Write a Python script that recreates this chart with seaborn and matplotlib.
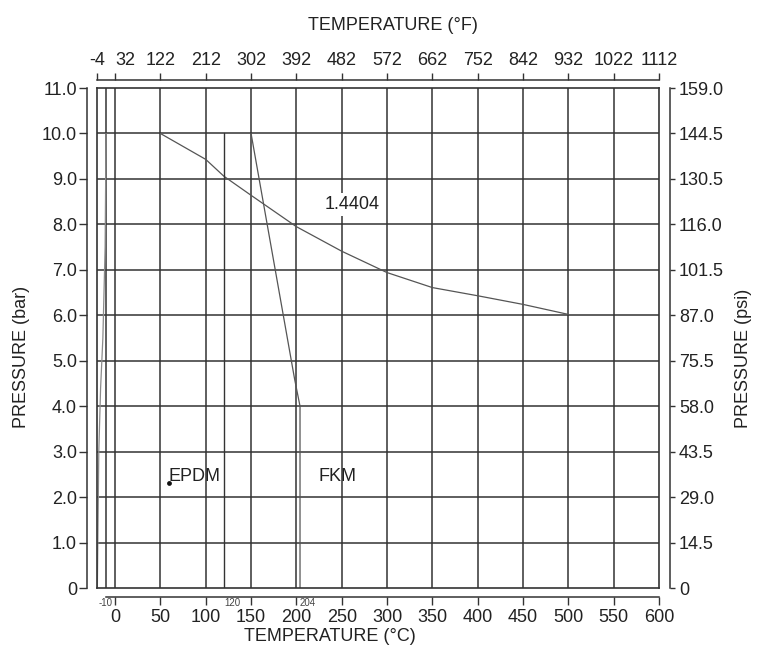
import matplotlib
matplotlib.use("Agg")
import matplotlib.pyplot as plt
import matplotlib.transforms as mtrans
import seaborn as sns
import pandas as pd

sns.set_style("white")
plt.rcParams['font.family'] = ['Liberation Sans', 'DejaVu Sans']

# axis ticks / labels
temp_c_ticks = [0, 50, 100, 150, 200, 250, 300, 350, 400, 450, 500, 550, 600]
temp_c_small = [-10, 120, 204]
temp_c_small_labels = ['-10', '120', '204']
temp_f_pos = [-20, 0, 50, 100, 150, 200, 250, 300, 350, 400, 450, 500, 550, 600]
temp_f_labels = ['-4', '32', '122', '212', '302', '392', '482', '572', '662',
                 '752', '842', '932', '1022', '1112']
bar_ticks = [0, 1, 2, 3, 4, 5, 6, 7, 8, 9, 10, 11]
bar_labels = ['0', '1.0', '2.0', '3.0', '4.0', '5.0', '6.0', '7.0', '8.0',
              '9.0', '10.0', '11.0']
psi_labels = ['0', '14.5', '29.0', '43.5', '58.0', '75.5', '87.0', '101.5',
              '116.0', '130.5', '144.5', '159.0']
grid_c = [-10, 0, 50, 100, 150, 200, 250, 300, 350, 400, 450, 500, 550]
grid_bar = [1, 2, 3, 4, 5, 6, 7, 8, 9, 10]

# curves
t_14404 = [50, 100, 120, 150, 200, 250, 300, 350, 400, 450, 500]
p_14404 = [10.0, 9.43, 9.06, 8.64, 7.95, 7.41, 6.94, 6.61, 6.43, 6.24, 6.02]
t_fkm = [150, 198, 204, 204]
p_fkm = [10.0, 4.6, 4.0, 0.0]
t_epdm = [120, 120]
p_epdm = [0.0, 10.0]
t_low = [-10, -11, -13.5, -16, -18, -19.6]
p_low = [10.0, 7.5, 5.5, 4.4, 3.0, 0.0]
epdm_dot_t = [60]
epdm_dot_p = [2.3]

ink = '#333333'
txt = '#222222'
fs = 13
pos = [0.1281, 0.105, 0.7424, 0.761]

fig = plt.figure(figsize=(7.57, 6.57), dpi=100)

def shift(label, dx_px, dy_px=0):
    label.set_transform(label.get_transform() + mtrans.ScaledTranslation(
        dx_px / 100, dy_px / 100, fig.dpi_scale_trans))

# plot box with grid
ax = fig.add_axes(pos, label='main')
ax.set_xlim(-20, 600)
ax.set_ylim(0, 11)
for s in ax.spines.values():
    s.set_visible(True)
    s.set_color(ink)
    s.set_linewidth(1.2)
ax.set_xticks(grid_c)
ax.set_yticks(grid_bar)
ax.tick_params(length=0, labelbottom=False, labelleft=False)
ax.grid(True, color=ink, lw=1.1)

def line(t, p, color='#555555', lw=0.9):
    df = pd.DataFrame({'t': t, 'p': p})
    sns.lineplot(data=df, x='t', y='p', ax=ax, sort=False, estimator=None,
                 color=color, lw=lw)

line(t_14404, p_14404)
line(t_fkm, p_fkm)
line(t_epdm, p_epdm, color=ink, lw=1.0)
line(t_low, p_low, color='#8a8a8a', lw=0.9)
sns.scatterplot(x=epdm_dot_t, y=epdm_dot_p, ax=ax, color='#111111', s=12,
                edgecolor='none')
ax.set_xlabel('')
ax.set_ylabel('')

ax.text(262, 8.44, '1.4404', fontsize=fs, ha='center', va='center',
        color=txt, zorder=5,
        bbox=dict(facecolor='white', edgecolor='none', pad=2))
ax.text(59, 2.46, 'EPDM', fontsize=fs, ha='left', va='center', color=txt)
ax.text(224, 2.46, 'FKM', fontsize=fs, ha='left', va='center', color=txt)

# bottom / left axes (°C, bar)
axl = fig.add_axes(pos, label='cbar', facecolor='none')
axl.set_xlim(-20, 600)
axl.set_ylim(0, 11)
axl.spines['top'].set_visible(False)
axl.spines['right'].set_visible(False)
for side, off, lo, hi in [('left', 7, 0, 11), ('bottom', 6.5, -10, 600)]:
    sp = axl.spines[side]
    sp.set_visible(True)
    sp.set_position(('outward', off))
    sp.set_bounds(lo, hi)
    sp.set_color(ink)
    sp.set_linewidth(1.1)
axl.set_xticks(temp_c_ticks)
axl.set_xticklabels([str(v) for v in temp_c_ticks])
axl.set_xticks(temp_c_small, minor=True)
axl.set_xticklabels(temp_c_small_labels, minor=True, fontsize=7, color='#444444')
for lab in axl.get_xticklabels(minor=True)[1:]:
    lab.set_ha('left')
    shift(lab, -3)
axl.set_yticks(bar_ticks)
axl.set_yticklabels(bar_labels)
axl.tick_params(which='major', bottom=True, left=True, direction='out',
                length=5.8, width=1.0, color=ink, labelsize=fs,
                labelcolor=txt, pad=2.5)
axl.tick_params(axis='y', pad=1.5)
axl.tick_params(which='minor', bottom=True, length=0, pad=0.5)
axl.set_xlabel('TEMPERATURE (°C)', fontsize=fs, color=txt)
axl.xaxis.set_label_coords(0.415, -0.08)
axl.set_ylabel('PRESSURE (bar)', fontsize=fs, color=txt)
axl.yaxis.set_label_coords(-0.119, 0.463)

# top / right axes (°F, psi)
axr = fig.add_axes(pos, label='fpsi', facecolor='none')
axr.set_xlim(-20, 600)
axr.set_ylim(0, 11)
axr.spines['bottom'].set_visible(False)
axr.spines['left'].set_visible(False)
for side, off, lo, hi in [('right', 8, 0, 11), ('top', 5.8, -20, 600)]:
    sp = axr.spines[side]
    sp.set_visible(True)
    sp.set_position(('outward', off))
    sp.set_bounds(lo, hi)
    sp.set_color(ink)
    sp.set_linewidth(1.1)
axr.xaxis.tick_top()
axr.yaxis.tick_right()
axr.set_xticks(temp_f_pos)
axr.set_xticklabels(temp_f_labels)
top_labs = axr.get_xticklabels()
shift(top_labs[0], 3)
top_labs[1].set_ha('left')
shift(top_labs[1], -3)
axr.set_yticks(bar_ticks)
axr.set_yticklabels(psi_labels)
axr.tick_params(axis='x', top=True, bottom=False, direction='out', length=5,
                width=1.0, color=ink, labelsize=fs, labelcolor=txt, pad=3)
axr.tick_params(axis='y', right=True, left=False, direction='out', length=3.5,
                width=1.0, color=ink, labelsize=fs, labelcolor=txt, pad=3)
axr.xaxis.set_label_position('top')
axr.set_xlabel('TEMPERATURE (°F)', fontsize=fs, color=txt)
axr.xaxis.set_label_coords(0.527, 1.116)
axr.yaxis.set_label_position('right')
axr.set_ylabel('PRESSURE (psi)', fontsize=fs, color=txt)
axr.yaxis.set_label_coords(1.135, 0.46)

fig.savefig('out.png', dpi=100)
